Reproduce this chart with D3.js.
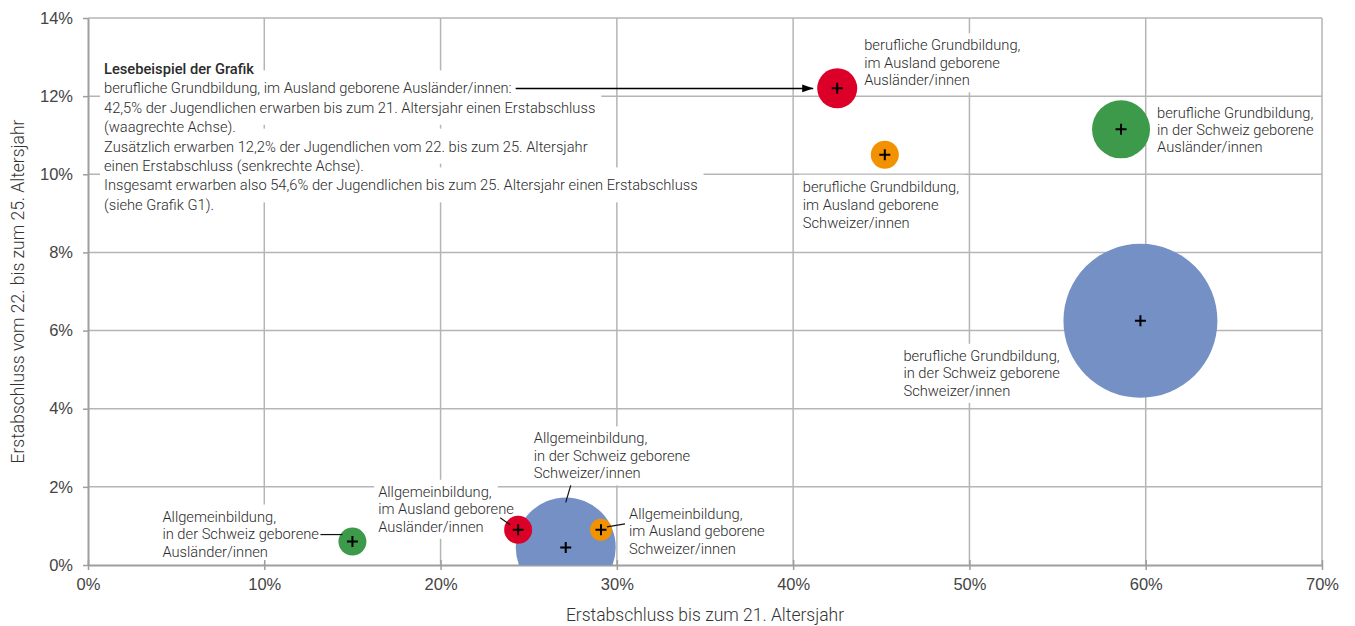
<!DOCTYPE html>
<html>
<head>
<meta charset="utf-8">
<script src="https://cdn.jsdelivr.net/npm/d3@7"></script>
<style>
  body { margin: 0; background: #fff; }
  svg { font-family: Roboto, "Open Sans", sans-serif; }
  .lbl { font-size: 14.7px; font-weight: 300; fill: #2b2b2b; }
  .tick text { font-size: 16.5px; font-weight: 300; fill: #444; }
  .axis-title { font-size: 17.5px; font-weight: 300; fill: #333; }
</style>
</head>
<body>
<script>
"use strict";

// Bildungstyp / Herkunft der Gruppen
const groups = [
    ["berufliche Grundbildung,", "im Ausland geborene", "Ausländer/innen"],
    ["berufliche Grundbildung,", "im Ausland geborene", "Schweizer/innen"],
    ["berufliche Grundbildung,", "in der Schweiz geborene", "Ausländer/innen"],
    ["berufliche Grundbildung,", "in der Schweiz geborene", "Schweizer/innen"],
    ["Allgemeinbildung,", "in der Schweiz geborene", "Schweizer/innen"],
    ["Allgemeinbildung,", "im Ausland geborene", "Ausländer/innen"],
    ["Allgemeinbildung,", "im Ausland geborene", "Schweizer/innen"],
    ["Allgemeinbildung,", "in der Schweiz geborene", "Ausländer/innen"]
];
const origin = ["ausl_ausl", "ausl_ch", "ch_ausl", "ch_ch", "ch_ch", "ausl_ausl", "ausl_ch", "ch_ausl"];
// Erstabschluss bis zum 21. Altersjahr (%)
const bis21 = [42.5, 45.2, 58.6, 59.7, 27.1, 24.4, 29.1, 15.0];
// Erstabschluss vom 22. bis zum 25. Altersjahr (%)
const vom22bis25 = [12.2, 10.5, 11.15, 6.25, 0.45, 0.9, 0.9, 0.6];
// Gruppengrösse (relativ)
const groupSize = [400, 196, 841, 5930, 2500, 196, 121, 196];

const xTicks = [0, 10, 20, 30, 40, 50, 60, 70];
const yTicks = [0, 2, 4, 6, 8, 10, 12, 14];

const readingExample = [
    "Lesebeispiel der Grafik",
    "berufliche Grundbildung, im Ausland geborene Ausländer/innen:",
    "42,5% der Jugendlichen erwarben bis zum 21. Altersjahr einen Erstabschluss",
    "(waagrechte Achse).",
    "Zusätzlich erwarben 12,2% der Jugendlichen vom 22. bis zum 25. Altersjahr",
    "einen Erstabschluss (senkrechte Achse).",
    "Insgesamt erwarben also 54,6% der Jugendlichen bis zum 25. Altersjahr einen Erstabschluss",
    "(siehe Grafik G1)."
];

// label placement relative to bubble centre: text offset + leader line
const labelLayout = [
    { dx: 27,   dy: -43,  lh: 17.5 },
    { dx: -82,  dy: 32,   lh: 18 },
    { dx: 36,   dy: -16,  lh: 17 },
    { dx: -237, dy: 35,   lh: 17.5 },
    { dx: -32,  dy: -109, lh: 17.5, lead: [[0, -45], [5, -62]] },
    { dx: -140, dy: -38,  lh: 17.5, lead: [[-18, -12], [-8, -5]] },
    { dx: 28,   dy: -16,  lh: 17.5, lead: [[6, -3], [24, -6]] },
    { dx: -190, dy: -25,  lh: 17.5, lead: [[-32, -7], [-10, -7]] }
];

const colors = {
    ausl_ausl: "#dc0028",
    ausl_ch  : "#f39200",
    ch_ausl  : "#3e9a4b",
    ch_ch    : "#7490c5"
};

const width = 1355, height = 626;
const margin = { top: 18, right: 33, bottom: 61, left: 88 };
const w = width - margin.left - margin.right;
const h = height - margin.top - margin.bottom;

const svg = d3.select("body").append("svg")
              .attr("width", width)
              .attr("height", height);

const x = d3.scaleLinear().domain([0, 70]).range([0, w]);
const y = d3.scaleLinear().domain([0, 14]).range([h, 0]);
const r = d3.scaleSqrt().domain([0, d3.max(groupSize)]).range([0, 77]);

const g = svg.append("g")
             .attr("transform", `translate(${margin.left},${margin.top})`);

// grid
g.append("g").selectAll("line")
 .data(xTicks.slice(1))
 .join("line")
 .attr("x1", d => x(d)).attr("x2", d => x(d))
 .attr("y1", 0).attr("y2", h)
 .attr("stroke", "#b5b5b5").attr("stroke-width", 1.5);
g.append("g").selectAll("line")
 .data(yTicks.slice(1))
 .join("line")
 .attr("x1", 0).attr("x2", w)
 .attr("y1", d => y(d)).attr("y2", d => y(d))
 .attr("stroke", "#b5b5b5").attr("stroke-width", 1.5);

// layers: label backgrounds sit between grid and bubbles
const bgLayer = g.append("g");

// axes
const xAxis = g.append("g")
               .attr("transform", `translate(0,${h})`)
               .call(d3.axisBottom(x).tickValues(xTicks).tickFormat(d => d + "%")
                       .tickSizeInner(5).tickSizeOuter(0).tickPadding(8));
const yAxis = g.append("g")
               .call(d3.axisLeft(y).tickValues(yTicks).tickFormat(d => d + "%")
                       .tickSizeInner(5).tickSizeOuter(0).tickPadding(10));
[xAxis, yAxis].forEach(a => {
    a.select(".domain").attr("stroke", "#9e9e9e").attr("stroke-width", 2);
    a.selectAll(".tick line").attr("stroke", "#9e9e9e").attr("stroke-width", 1.5);
    a.selectAll(".tick text").attr("font-family", null).attr("font-size", null);
});
xAxis.selectAll(".tick line").attr("y1", -5);
yAxis.selectAll(".tick line").attr("x1", 0).attr("x2", -5);

// axis titles
svg.append("text")
   .attr("class", "axis-title")
   .attr("x", margin.left + w / 2)
   .attr("y", 621)
   .attr("text-anchor", "middle")
   .text("Erstabschluss bis zum 21. Altersjahr");
svg.append("text")
   .attr("class", "axis-title")
   .attr("transform", `translate(24,${margin.top + h / 2}) rotate(-90)`)
   .attr("text-anchor", "middle")
   .text("Erstabschluss vom 22. bis zum 25. Altersjahr");

// bubbles, clipped to plot area
svg.append("defs").append("clipPath").attr("id", "plot")
   .append("rect").attr("width", w).attr("height", h);

const data = groups.map((lines, i) => ({
    lines,
    origin: origin[i],
    cx: x(bis21[i]),
    cy: y(vom22bis25[i]),
    rad: r(groupSize[i]),
    layout: labelLayout[i]
}));

const bubbles = g.append("g").attr("clip-path", "url(#plot)");
bubbles.selectAll("circle")
       .data(data.slice().sort((a, b) => b.rad - a.rad))
       .join("circle")
       .attr("cx", d => d.cx)
       .attr("cy", d => d.cy)
       .attr("r", d => d.rad)
       .attr("fill", d => colors[d.origin]);

// plus markers
bubbles.selectAll("path.plus")
       .data(data)
       .join("path")
       .attr("class", "plus")
       .attr("d", d => `M${d.cx - 5.5},${d.cy}H${d.cx + 5.5}M${d.cx},${d.cy - 5.5}V${d.cy + 5.5}`)
       .attr("stroke", "#000")
       .attr("stroke-width", 2);

const textLayer = g.append("g");

// text block, white background per line goes into bgLayer
function textBlock(lines, x0, y0, lh, padTop, padBot, boldFirst) {
    const tx = textLayer.append("g");
    lines.forEach((s, i) => {
        const t = tx.append("text")
                    .attr("class", "lbl")
                    .attr("x", x0)
                    .attr("y", y0 + i * lh + 5)
                    .style("font-weight", boldFirst && i === 0 ? 500 : null)
                    .text(s);
        const len = t.node().getComputedTextLength();
        bgLayer.append("rect")
               .attr("x", x0 - 4)
               .attr("y", y0 + i * lh - padTop)
               .attr("width", len + 10)
               .attr("height", padTop + padBot)
               .attr("fill", "#fff");
    });
    return tx;
}

data.forEach(d => {
    const L = d.layout;
    if (L.lead) {
        textLayer.append("line")
                 .attr("x1", d.cx + L.lead[0][0]).attr("y1", d.cy + L.lead[0][1])
                 .attr("x2", d.cx + L.lead[1][0]).attr("y2", d.cy + L.lead[1][1])
                 .attr("stroke", "#111").attr("stroke-width", 1.2);
    }
    textBlock(d.lines, d.cx + L.dx, d.cy + L.dy, L.lh, 12, 12, false);
});

// reading example with arrow to the first bubble
svg.append("defs").append("marker")
   .attr("id", "arrow")
   .attr("viewBox", "0 0 10 10")
   .attr("refX", 10).attr("refY", 5)
   .attr("markerWidth", 11).attr("markerHeight", 11)
   .attr("markerUnits", "userSpaceOnUse")
   .attr("orient", "auto")
   .append("path").attr("d", "M0,1.5L10,5L0,8.5Z").attr("fill", "#000");

const ex0 = 16, ey0 = 51, exLh = 19.4;
const readText = textBlock(readingExample, ex0, ey0, exLh, 18, 17, true);
const arrowStart = ex0 + readText.selectAll("text").nodes()[1].getComputedTextLength() + 4;
textLayer.append("line")
         .attr("x1", arrowStart).attr("y1", ey0 + exLh)
         .attr("x2", data[0].cx - data[0].rad - 4).attr("y2", ey0 + exLh)
         .attr("stroke", "#000").attr("stroke-width", 1.5)
         .attr("marker-end", "url(#arrow)");
</script>
</body>
</html>
